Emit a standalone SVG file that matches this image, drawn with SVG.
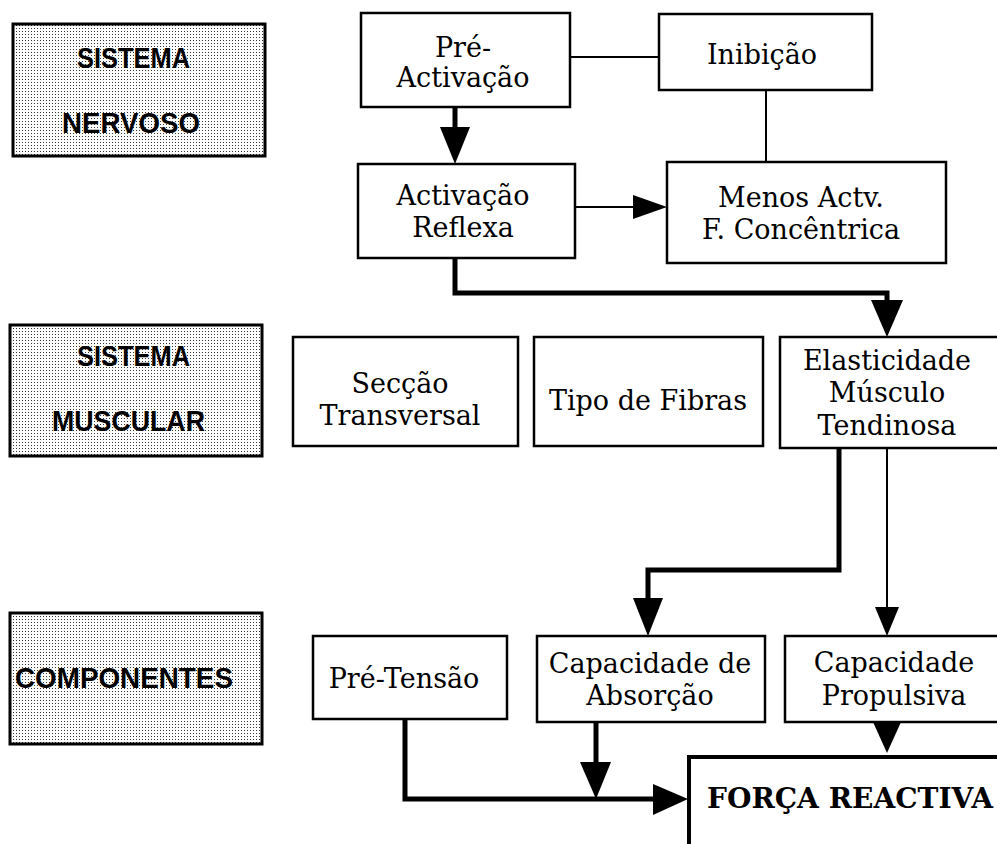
<svg xmlns="http://www.w3.org/2000/svg" width="997" height="844" viewBox="0 0 997 844">
<defs>
<pattern id="dots" width="3" height="3" patternUnits="userSpaceOnUse">
<rect width="3" height="3" fill="#ffffff"/>
<rect x="1" y="1" width="1" height="1" fill="#333"/>
</pattern>
<style>
.lbl{fill:url(#dots);stroke:#000;stroke-width:3}
.lt{font-family:"Liberation Sans",Arial,sans-serif;font-weight:bold;font-size:30px;fill:#000}
.box{fill:#fff;stroke:#000;stroke-width:2.5}
.t{font-family:"DejaVu Serif","Liberation Serif",serif;font-size:27px;fill:#000;text-anchor:middle}
.thick{fill:none;stroke:#000;stroke-width:5}
.thin{fill:none;stroke:#000;stroke-width:2}
.ah{fill:#000}
</style>
</defs>
<rect width="997" height="844" fill="#fff"/>

<g id="sistema-nervoso">
<rect class="lbl" x="13" y="24" width="252" height="132"/>
<text class="lt" x="77" y="68" textLength="113" lengthAdjust="spacingAndGlyphs">SISTEMA</text>
<text class="lt" x="62" y="133" textLength="138" lengthAdjust="spacingAndGlyphs">NERVOSO</text>
</g>
<g id="sistema-muscular">
<rect class="lbl" x="10" y="325" width="252" height="131"/>
<text class="lt" x="77" y="366" textLength="113" lengthAdjust="spacingAndGlyphs">SISTEMA</text>
<text class="lt" x="52" y="431" textLength="153" lengthAdjust="spacingAndGlyphs">MUSCULAR</text>
</g>
<g id="componentes">
<rect class="lbl" x="10" y="613" width="252" height="131"/>
<text class="lt" x="15" y="688" textLength="218" lengthAdjust="spacingAndGlyphs">COMPONENTES</text>
</g>

<g id="connectors">
<line class="thin" x1="570" y1="57" x2="659" y2="57"/>
<line class="thin" x1="766" y1="90" x2="766" y2="162"/>
<line class="thick" x1="455" y1="107" x2="455" y2="130"/>
<polygon class="ah" points="440,127 470,127 455,164"/>
<line class="thin" x1="575" y1="207" x2="636" y2="207"/>
<polygon class="ah" points="633,195 633,219 667,207"/>
<path class="thick" d="M455,258 V293 H887 V303"/>
<polygon class="ah" points="871,300 903,300 887,337"/>
<path class="thick" d="M839,448 V570 H648 V601"/>
<polygon class="ah" points="633,598 663,598 648,636"/>
<line class="thin" x1="887" y1="448" x2="887" y2="610"/>
<polygon class="ah" points="875,607 899,607 887,636"/>
<polygon class="ah" points="873,722 901,722 887,753"/>
<path class="thick" d="M405,719 V799 H656"/>
<polygon class="ah" points="653,784 653,815 688,799"/>
<line class="thick" x1="596" y1="722" x2="596" y2="765"/>
<polygon class="ah" points="580,762 611,762 596,799"/>
</g>

<g id="pre-activacao">
<rect class="box" x="361" y="13" width="209" height="94"/>
<text class="t" x="463" y="57">Pré-</text>
<text class="t" x="463" y="87">Activação</text>
</g>
<g id="inibicao">
<rect class="box" x="659" y="14" width="213" height="76"/>
<text class="t" x="762" y="64">Inibição</text>
</g>
<g id="activacao-reflexa">
<rect class="box" x="358" y="164" width="217" height="94"/>
<text class="t" x="463" y="205">Activação</text>
<text class="t" x="463" y="237">Reflexa</text>
</g>
<g id="menos-actv">
<rect class="box" x="667" y="162" width="279" height="101"/>
<text class="t" x="801" y="207">Menos Actv.</text>
<text class="t" x="801" y="239">F. Concêntrica</text>
</g>
<g id="seccao">
<rect class="box" x="293" y="337" width="225" height="109"/>
<text class="t" x="400" y="393">Secção</text>
<text class="t" x="400" y="425">Transversal</text>
</g>
<g id="tipo-fibras">
<rect class="box" x="534" y="337" width="229" height="109"/>
<text class="t" x="648" y="410">Tipo de Fibras</text>
</g>
<g id="elasticidade">
<rect class="box" x="780" y="337" width="230" height="111"/>
<text class="t" x="887" y="370">Elasticidade</text>
<text class="t" x="887" y="402">Músculo</text>
<text class="t" x="887" y="435">Tendinosa</text>
</g>
<g id="pre-tensao">
<rect class="box" x="313" y="636" width="194" height="83"/>
<text class="t" x="404" y="688">Pré-Tensão</text>
</g>
<g id="absorcao">
<rect class="box" x="537" y="636" width="228" height="86"/>
<text class="t" x="650" y="673">Capacidade de</text>
<text class="t" x="650" y="705">Absorção</text>
</g>
<g id="propulsiva">
<rect class="box" x="785" y="636" width="225" height="86"/>
<text class="t" x="894" y="672">Capacidade</text>
<text class="t" x="894" y="705">Propulsiva</text>
</g>
<g id="forca-reactiva">
<rect x="689" y="757" width="320" height="100" fill="#fff" stroke="#000" stroke-width="4"/>
<text x="707" y="808" font-family="DejaVu Serif,'Liberation Serif',serif" font-weight="bold" font-size="27" textLength="286" lengthAdjust="spacingAndGlyphs">FORÇA REACTIVA</text>
</g>
</svg>
